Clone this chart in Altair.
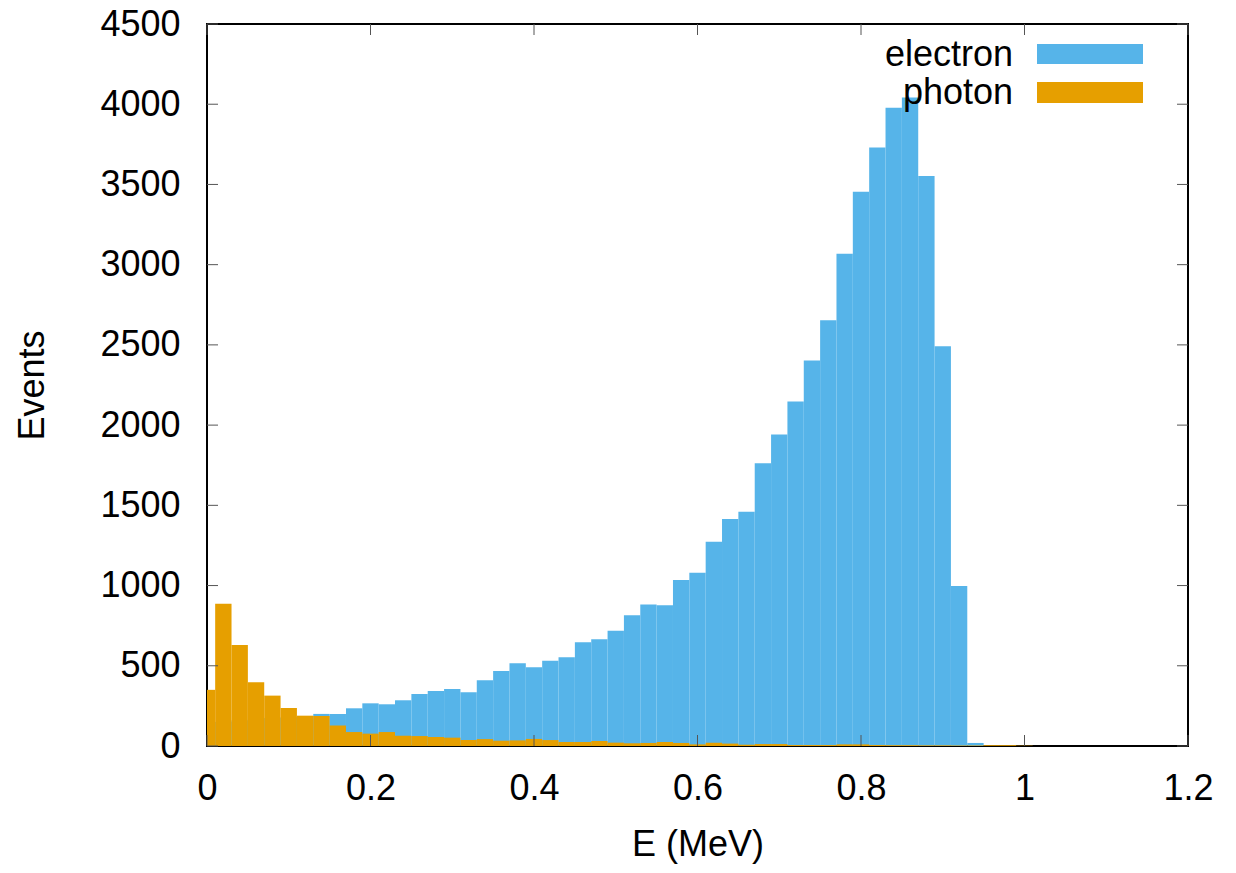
import altair as alt
import pandas as pd

# ---- data ----
bin_width = 0.02
bin_centers = [round(i * 0.02, 2) for i in range(51)]  # 0.00 ... 1.00

electron = [90, 150, 160, 170, 175, 180, 185, 200, 200, 235,
            266, 260, 285, 324, 343, 356, 335, 410, 468, 516,
            491, 532, 553, 647, 666, 718, 815, 882, 878, 1034,
            1080, 1273, 1415, 1460, 1762, 1941, 2147, 2403, 2654, 3068,
            3455, 3730, 3978, 4042, 3553, 2492, 998, 19, 0, 0,
            0]

photon = [350, 886, 630, 397, 314, 237, 189, 187, 127, 87,
          77, 87, 64, 62, 56, 52, 37, 43, 33, 35,
          44, 37, 25, 25, 31, 21, 17, 19, 25, 19,
          10, 21, 15, 8, 12, 12, 6, 6, 6, 10,
          10, 6, 5, 5, 4, 4, 3, 3, 5, 5,
          2]

series_names = ["electron", "photon"]
series_colors = ["#56B4E9", "#E69F00"]

x_ticks = [0, 0.2, 0.4, 0.6, 0.8, 1.0, 1.2]
y_ticks = [0, 500, 1000, 1500, 2000, 2500, 3000, 3500, 4000, 4500]

# ---- layout ----
W, H = 981, 722
FONT = "Liberation Sans"
FS = 36


def bars_frame(values):
    return pd.DataFrame({
        "lo": [max(0.0, c - bin_width / 2) for c in bin_centers],
        "hi": [c + bin_width / 2 for c in bin_centers],
        "n": values,
    })


xscale = alt.Scale(domain=[0, 1.2], nice=False, zero=False)
yscale = alt.Scale(domain=[0, 4500], nice=False)

x_axis = alt.Axis(values=x_ticks, format="~g", grid=False, domain=False, ticks=False,
                  tickSize=0, labelPadding=53, labelBaseline="alphabetic",
                  labelFont=FONT, labelFontSize=FS, labelColor="black",
                  title="E (MeV)", titleFont=FONT, titleFontSize=FS, titleFontWeight="normal",
                  titleColor="black", titleBaseline="alphabetic", titleY=109, titleX=W / 2,
                  titleAlign="center", labelFlush=False, labelOverlap=False)
y_axis = alt.Axis(values=y_ticks, format="d", grid=False, domain=False, ticks=False,
                  tickSize=0, labelPadding=27, labelBaseline="middle",
                  labelFont=FONT, labelFontSize=FS, labelColor="black",
                  title="Events", titleFont=FONT, titleFontSize=FS, titleFontWeight="normal",
                  titleColor="black", titleAngle=270, titleBaseline="alphabetic",
                  titleX=-164, titleY=H / 2, titleAlign="center",
                  labelFlush=False, labelOverlap=False)

el_layer = alt.Chart(bars_frame(electron)).mark_rect(color=series_colors[0], clip=True).encode(
    x=alt.X("lo:Q", scale=xscale, axis=x_axis),
    x2="hi:Q",
    y=alt.Y("n:Q", scale=yscale, axis=y_axis),
    y2=alt.datum(0),
)

ph_layer = alt.Chart(bars_frame(photon)).mark_rect(color=series_colors[1], clip=True).encode(
    x=alt.X("lo:Q", scale=xscale, axis=x_axis),
    x2="hi:Q",
    y=alt.Y("n:Q", scale=yscale, axis=y_axis),
    y2=alt.datum(0),
)

xt = pd.DataFrame({"lo": x_ticks})
yt = pd.DataFrame({"n": y_ticks})
tick_color = "#555555"

xt_bottom = alt.Chart(xt).mark_rule(color=tick_color, strokeWidth=1).encode(
    x=alt.X("lo:Q", scale=xscale, axis=x_axis), y=alt.value(H), y2=alt.value(H - 11))
xt_top = alt.Chart(xt).mark_rule(color=tick_color, strokeWidth=1).encode(
    x=alt.X("lo:Q", scale=xscale, axis=x_axis), y=alt.value(0), y2=alt.value(11))
yt_left = alt.Chart(yt).mark_rule(color=tick_color, strokeWidth=1).encode(
    y=alt.Y("n:Q", scale=yscale, axis=y_axis), x=alt.value(0), x2=alt.value(11))
yt_right = alt.Chart(yt).mark_rule(color=tick_color, strokeWidth=1).encode(
    y=alt.Y("n:Q", scale=yscale, axis=y_axis), x=alt.value(W), x2=alt.value(W - 11))

legend_layers = []
legend_rows = [(42, 20, 40), (80, 58, 79)]
for name, col, (base, top, bot) in zip(series_names, series_colors, legend_rows):
    df = pd.DataFrame({"label": [name]})
    legend_layers.append(
        alt.Chart(df).mark_rect(color=col).encode(
            x=alt.value(830), x2=alt.value(936), y=alt.value(top), y2=alt.value(bot)))
    legend_layers.append(
        alt.Chart(df).mark_text(font=FONT, fontSize=FS, align="right", baseline="alphabetic",
                                color="black").encode(
            x=alt.value(806), y=alt.value(base), text="label:N"))

chart = alt.layer(el_layer, ph_layer, xt_bottom, xt_top, yt_left, yt_right, *legend_layers).properties(
    width=W, height=H,
    autosize=alt.AutoSizeParams(type="none"),
    padding={"left": 207, "top": 24, "right": 48, "bottom": 127},
    background="white",
).configure_view(stroke="black", strokeWidth=2)

chart.save("out.html", embed_options={"renderer": "svg", "actions": False})
